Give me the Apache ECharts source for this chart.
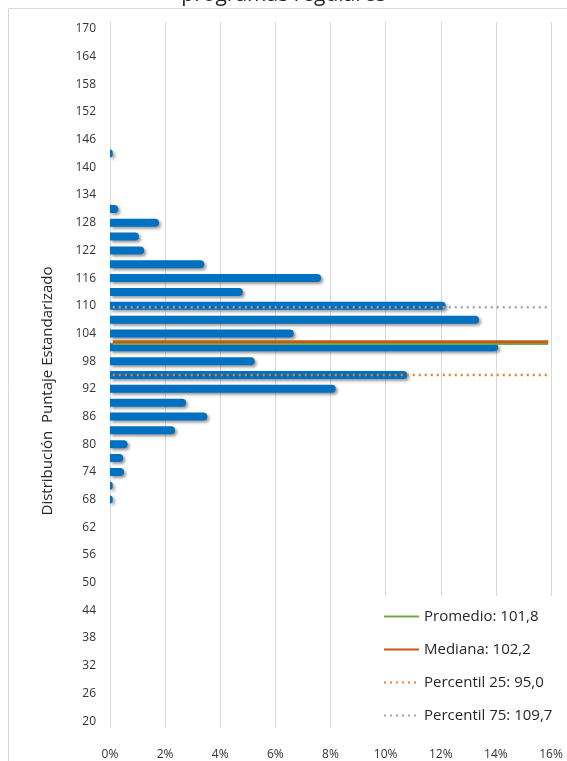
<!DOCTYPE html>
<html>
<head>
<meta charset="utf-8">
<script src="https://cdn.jsdelivr.net/npm/echarts@6/dist/echarts.min.js"></script>
<style>html,body{margin:0;padding:0;background:#fff}#c{width:567px;height:761px}</style>
</head>
<body>
<div id="c"></div>
<script>
// Category bands of the score axis (tick labels shown every other band)
var scoreCategories = ['20','23','26','29','32','35','38','41','44','47','50','53','56','59','62','65','68','71','74','77','80','83','86','89','92','95','98','101','104','107','110','113','116','119','122','125','128','131','134','137','140','143','146','149','152','155','158','161','164','167','170'];
// Scores having a bar and their share (%)
var barScores = ['143','131','128','125','122','119','116','113','110','107','104','101','98','95','92','89','86','83','80','77','74','71','68'];
var barShares = [0.1, 0.3, 1.78, 1.05, 1.24, 3.42, 7.66, 4.82, 12.18, 13.39, 6.67, 14.08, 5.25, 10.79, 8.19, 2.76, 3.53, 2.36, 0.64, 0.48, 0.51, 0.1, 0.1];
// Reference statistics
var statNames = ['Promedio: 101,8', 'Mediana: 102,2', 'Percentil 25: 95,0', 'Percentil 75: 109,7'];
var statValues = [101.8, 102.2, 95.0, 109.7];
var statSpan = [0.1, 15.9];
var xTicks = [0, 16, 2];

var font = '"Open Sans", "Noto Sans", sans-serif';
var statStyles = [
  {color: '#70AD47', width: 3, type: 'solid'},
  {color: '#C55A11', width: 3, type: 'solid'},
  {color: '#ED7D31', width: 2.5, type: [2, 4]},
  {color: '#A5A5A5', width: 2.5, type: [2, 4]}
];

var series = [{
  type: 'bar',
  name: 'dist',
  xAxisIndex: 0,
  yAxisIndex: 0,
  barWidth: 8,
  itemStyle: {
    color: '#0070C0',
    borderRadius: [0, 4, 4, 0],
    shadowColor: 'rgba(0,0,0,0.4)',
    shadowBlur: 3,
    shadowOffsetX: 2,
    shadowOffsetY: 2
  },
  data: barShares.map(function (v, i) { return [v, barScores[i]]; }),
  z: 2
}];
statNames.forEach(function (n, i) {
  series.push({
    type: 'line',
    name: n,
    xAxisIndex: 0,
    yAxisIndex: 1,
    symbol: 'none',
    lineStyle: {color: statStyles[i].color, width: statStyles[i].width, type: statStyles[i].type, cap: 'butt'},
    itemStyle: {color: statStyles[i].color},
    data: [[statSpan[0], statValues[i]], [statSpan[1], statValues[i]]],
    z: i === 0 ? 3 : (i === 1 ? 4 : 5),
    silent: true,
    animation: false
  });
});

var chart = echarts.init(document.getElementById('c'), null, {renderer: 'canvas'});
chart.setOption({
  animation: false,
  backgroundColor: '#fff',
  title: {
    text: 'programas regulares',
    left: 'center',
    top: -20,
    textStyle: {fontFamily: font, fontSize: 21, fontWeight: 'normal', color: '#262626'}
  },
  graphic: [{
    type: 'rect',
    left: 6, top: 6,
    shape: {x: 0, y: 0, width: 700, height: 900},
    style: {fill: 'none', stroke: '#D9D9D9', lineWidth: 1},
    silent: true,
    z: -1
  }, {
    type: 'text',
    x: 48, y: 391,
    rotation: Math.PI / 2,
    style: {
      text: 'Distribución  Puntaje Estandarizado',
      fontFamily: font, fontSize: 15, fill: '#262626',
      align: 'center', verticalAlign: 'middle'
    },
    silent: true
  }],
  grid: {left: 110, right: 16, top: 22, bottom: 32, containLabel: false},
  legend: {
    data: statNames,
    orient: 'vertical',
    left: 377,
    top: 596,
    padding: [13, 14, 6, 6],
    backgroundColor: '#fff',
    itemWidth: 35,
    itemHeight: 14,
    itemGap: 18,
    itemStyle: {opacity: 0},
    textStyle: {fontFamily: font, fontSize: 15, color: '#262626'}
  },
  xAxis: {
    type: 'value',
    min: xTicks[0], max: xTicks[1], interval: xTicks[2],
    axisLine: {show: false},
    axisTick: {show: false},
    splitLine: {lineStyle: {color: '#D9D9D9', width: 1}},
    axisLabel: {formatter: '{value}%', margin: 21, fontFamily: font, fontSize: 12, color: '#333333'}
  },
  yAxis: [{
    type: 'category',
    data: scoreCategories,
    boundaryGap: true,
    axisLine: {show: false},
    axisTick: {show: false},
    splitLine: {show: false},
    axisLabel: {interval: 1, margin: 14, fontFamily: font, fontSize: 12, color: '#333333'}
  }, {
    type: 'value',
    min: 18.5, max: 171.5,
    show: false,
    splitLine: {show: false}
  }],
  series: series
});
</script>
</body>
</html>
